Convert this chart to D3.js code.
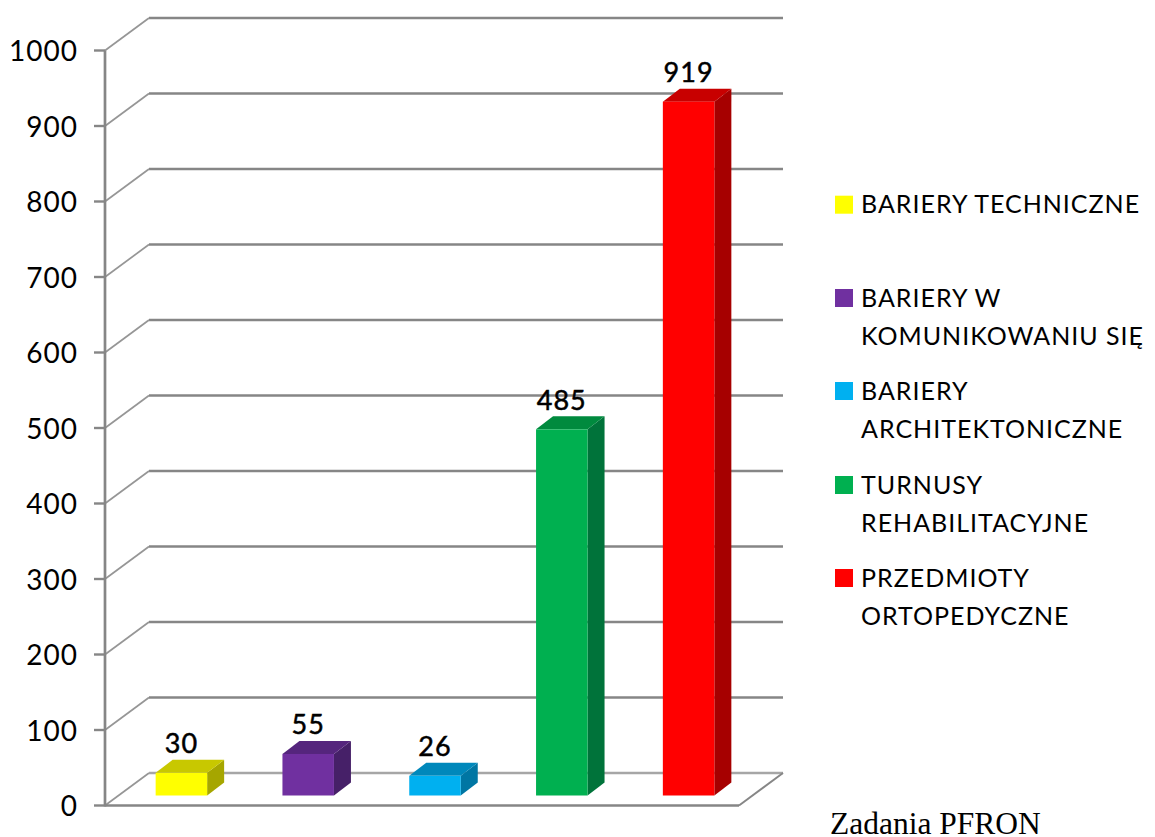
<!DOCTYPE html>
<html><head><meta charset="utf-8">
<script src="https://cdn.jsdelivr.net/npm/d3@7"></script>
<style>html,body{margin:0;background:#fff}svg{display:block}text{font-family:Lato,sans-serif;fill:#000}</style>
</head><body><svg id="c" width="1155" height="837"></svg>
<script>
const categories=["BARIERY TECHNICZNE","BARIERY W KOMUNIKOWANIU SIĘ","BARIERY ARCHITEKTONICZNE","TURNUSY REHABILITACYJNE","PRZEDMIOTY ORTOPEDYCZNE"];
const values=[30,55,26,485,919];
const legendLines=[["BARIERY TECHNICZNE"],["BARIERY W","KOMUNIKOWANIU SIĘ"],["BARIERY","ARCHITEKTONICZNE"],["TURNUSY","REHABILITACYJNE"],["PRZEDMIOTY","ORTOPEDYCZNE"]];
const frontColors=["#ffff00","#7030a0","#00b0f0","#00b050","#ff0000"];
const topColors=["#c8c800","#55257d","#0088bb","#008a3e","#c80000"];
const sideColors=["#a6a600","#462068","#0076a3","#00733a","#a60000"];
const tickValues=[0,100,200,300,400,500,600,700,800,900,1000];
const legendCenters=[204.7,298,391,485,578];
const caption="Zadania PFRON";

const svg=d3.select("#c");
const y=d3.scaleLinear().domain([0,1000]).range([805.5,50.5]);
const x=d3.scaleBand().domain(categories).range([105,739]).paddingInner(0).paddingOuter(0);
const dx=44,dy=32.5,bw=51.5,bdx=17,bdy=13,ox=13,oy=-10;
const grid=svg.append("g");
tickValues.forEach(v=>{
  const yy=y(v);
  grid.append("line").attr("x1",105+dx).attr("x2",739+dx).attr("y1",yy-dy).attr("y2",yy-dy)
    .attr("stroke",v==0?"#a6a6a6":"#868686").attr("stroke-width",2.7);
  grid.append("line").attr("x1",105).attr("x2",105+dx).attr("y1",yy).attr("y2",yy-dy)
    .attr("stroke","#969696").attr("stroke-width",1.7);
});
grid.append("line").attr("x1",105).attr("x2",739).attr("y1",y(0)).attr("y2",y(0)).attr("stroke","#868686").attr("stroke-width",2.7);
grid.append("line").attr("x1",739).attr("x2",739+dx).attr("y1",y(0)).attr("y2",y(0)-dy).attr("stroke","#868686").attr("stroke-width",1.9);
grid.append("line").attr("x1",105).attr("x2",105).attr("y1",y(1000)).attr("y2",y(0)+1).attr("stroke","#868686").attr("stroke-width",2.7);
tickValues.forEach(v=>{
  grid.append("line").attr("x1",94).attr("x2",105).attr("y1",y(v)).attr("y2",y(v)).attr("stroke","#868686").attr("stroke-width",2.4);
  svg.append("text").attr("x",78).attr("y",y(v)+10.5).attr("text-anchor","end").attr("font-size",28).attr("letter-spacing",1).text(v);
});
const h0=y(0);
const bars=svg.selectAll("g.bar").data(categories).join("g").attr("class","bar");
bars.each(function(c,i){
  const g=d3.select(this);
  const L=x(c)+x.bandwidth()/2+ox-bw/2,R=L+bw;
  const B=h0+oy,T=y(values[i])+oy;
  g.append("polygon").attr("fill",sideColors[i]).attr("points",[[R,T],[R+bdx,T-bdy],[R+bdx,B-bdy],[R,B]].join(" "));
  g.append("polygon").attr("fill",topColors[i]).attr("points",[[L,T],[L+bdx,T-bdy],[R+bdx,T-bdy],[R,T]].join(" "));
  g.append("rect").attr("x",L).attr("y",T).attr("width",bw).attr("height",B-T).attr("fill",frontColors[i]);
  g.append("text").attr("x",(L+R)/2).attr("y",T-19.5).attr("text-anchor","middle").attr("font-size",27).attr("letter-spacing",1)
    .attr("stroke","#000").attr("stroke-width",0.5).text(values[i]);
});
legendLines.forEach((lines,i)=>{
  const cy=legendCenters[i];
  svg.append("rect").attr("x",835).attr("y",cy-9).attr("width",18).attr("height",18).attr("fill",frontColors[i]);
  lines.forEach((t,j)=>svg.append("text").attr("x",861).attr("y",cy+8.7+j*38.5).attr("font-size",25).attr("letter-spacing",1).text(t));
});
svg.append("text").attr("x",830).attr("y",834).attr("font-size",31.5).style("font-family","'Liberation Serif',serif").text(caption);
</script></body></html>
